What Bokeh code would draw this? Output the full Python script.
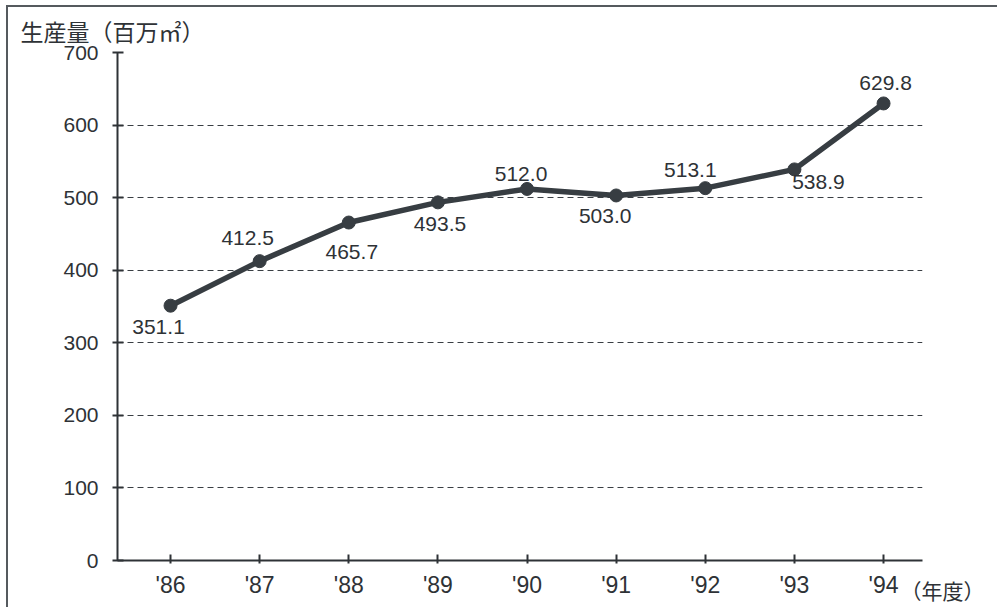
from bokeh.plotting import figure
from bokeh.models import Range1d, FixedTicker, Title, ColumnDataSource
from bokeh.core.properties import value
from bokeh.embed import file_html
from bokeh.resources import INLINE

years = ["'86", "'87", "'88", "'89", "'90", "'91", "'92", "'93", "'94"]
production = [351.1, 412.5, 465.7, 493.5, 512.0, 503.0, 513.1, 538.9, 629.8]
label_texts = ["351.1", "412.5", "465.7", "493.5", "512.0", "503.0", "513.1", "538.9", "629.8"]
y_ticks = [0, 100, 200, 300, 400, 500, 600, 700]

# label placement (pixels)
label_dx = [-12, -12, 3, 2, -6, -11, -15, 24, 2]
label_dy = [21, -23, 29, 22, -15, 21, -18, 13, -20]

xs = list(range(len(years)))

LINE = "#373d42"
TXT = "#2e3236"
NUM_FONT = "Liberation Sans"
CJK_FONT = "Noto Sans CJK JP"

p = figure(width=991, height=602, output_backend="svg", toolbar_location=None,
           x_range=Range1d(-0.595, 8.437), y_range=Range1d(0, 700),
           min_border_left=109, min_border_right=77, min_border_top=45, min_border_bottom=49)
p.styles = {"border-top": "2px solid #555a5e", "border-left": "2px solid #555a5e",
            "margin-left": "6px", "margin-top": "5px"}
p.outline_line_color = None
p.background_fill_color = "white"
p.border_fill_color = "white"

p.title.text = "生産量（百万㎡）"
p.title.text_font = CJK_FONT
p.title.text_font_size = "23px"
p.title.text_font_style = "normal"
p.title.text_line_height = 1.0
p.title.text_color = TXT
p.title.align = "left"
p.title.vertical_align = "middle"
p.title.offset = -97
p.title.standoff = 8

p.xaxis.ticker = FixedTicker(ticks=xs)
p.xaxis.major_label_overrides = {i: y for i, y in enumerate(years)}
p.yaxis.ticker = FixedTicker(ticks=y_ticks)
for ax in (p.xaxis, p.yaxis):
    ax.axis_line_color = TXT
    ax.axis_line_width = 2
    ax.major_tick_line_color = TXT
    ax.major_tick_line_width = 2
    ax.minor_tick_line_color = None
    ax.major_label_text_color = TXT
    ax.major_label_text_font = NUM_FONT
p.xaxis.major_tick_in = 6
p.xaxis.major_tick_out = 3
p.xaxis.major_label_standoff = 8
p.xaxis.major_label_text_font_size = "23px"
p.yaxis.major_tick_in = 6
p.yaxis.major_tick_out = 5
p.yaxis.major_label_standoff = 14
p.yaxis.major_label_text_font_size = "21px"

p.xgrid.grid_line_color = None
p.ygrid.ticker = FixedTicker(ticks=y_ticks[1:])
p.ygrid.grid_line_color = "#3a3f44"
p.ygrid.grid_line_width = 1.2
p.ygrid.grid_line_dash = "6 4"

src = ColumnDataSource(dict(x=xs, y=production, t=label_texts, dx=label_dx, dy=label_dy))
p.line("x", "y", source=src, line_color=LINE, line_width=5.5)
p.scatter("x", "y", source=src, size=13, fill_color=LINE, line_color=LINE)
p.text("x", "y", text="t", source=src, x_offset="dx", y_offset="dy",
       text_font=value(NUM_FONT), text_font_size="21px", text_color=TXT,
       text_align="center", text_baseline="middle")

# unit of the x axis, on the line of the tick labels
unit = Title(text="（年度）", text_font=CJK_FONT, text_font_size="21px",
             text_font_style="normal", text_color=TXT, text_line_height=1.0,
             align="right", vertical_align="top", offset=-62, standoff=-52)
p.add_layout(unit, "below")

open("out.html", "w").write(file_html(p, INLINE))
